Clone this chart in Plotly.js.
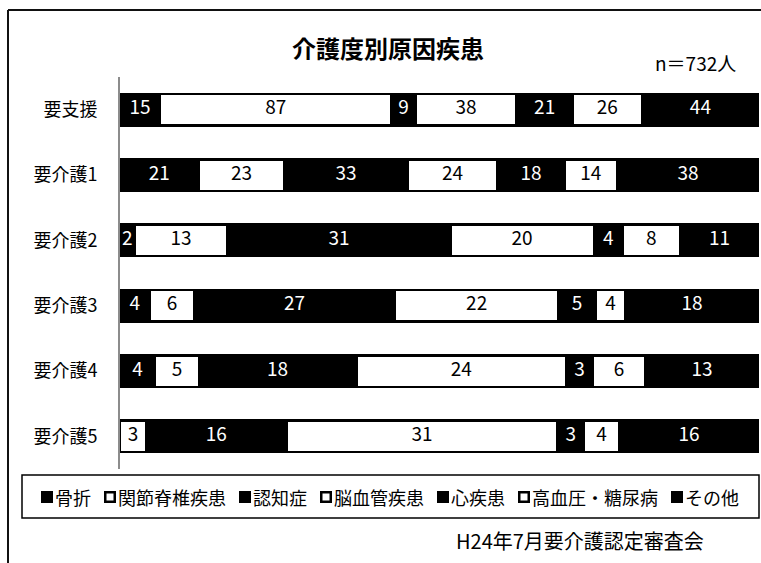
<!DOCTYPE html>
<html>
<head>
<meta charset="utf-8">
<script src="https://cdn.plot.ly/plotly-3.0.1.min.js"></script>
<style>html,body{margin:0;padding:0;background:#fff;}#chart{width:761px;height:563px;}</style>
</head>
<body>
<div id="chart"></div>
<script>
const categories = ['要支援','要介護1','要介護2','要介護3','要介護4','要介護5'];
const causes = ['骨折','関節脊椎疾患','認知症','脳血管疾患','心疾患','高血圧・糖尿病','その他'];
const fracture     = [15, 21,  2,  4,  4,  0];
const joint        = [87, 23, 13,  6,  5,  3];
const dementia     = [ 9, 33, 31, 27, 18, 16];
const stroke       = [38, 24, 20, 22, 24, 31];
const heart        = [21, 18,  4,  5,  3,  3];
const hypertension = [26, 14,  8,  4,  6,  4];
const other        = [44, 38, 11, 18, 13, 16];
const causeFill    = ['black','white','black','white','black','white','black'];
const titleText = '介護度別原因疾患';
const captionText = 'H24年7月要介護認定審査会';

const series = [fracture, joint, dementia, stroke, heart, hypertension, other];
const FONT = '"Noto Sans CJK JP", "Noto Sans", sans-serif';
const rowTotals = categories.map((c, r) => series.reduce((s, arr) => s + arr[r], 0));
const grand = rowTotals.reduce((a, b) => a + b, 0);

const L = 120, R = 759, T = 77, B = 469;
const rowPx = (B - T) / categories.length;
const blackW = 34 / rowPx;
const whiteLine = 2.5;
const whiteW = (34 - whiteLine) / rowPx;

const traces = [];
series.forEach((vals, i) => {
  const white = causeFill[i] === 'white';
  traces.push({
    type: 'bar', orientation: 'h', name: causes[i],
    y: categories, x: vals,
    width: categories.map(() => white ? whiteW : blackW),
    marker: {color: white ? '#ffffff' : '#000000',
             line: {color: '#000000', width: white ? whiteLine : 0}},
    hoverinfo: 'skip'
  });
});
// value labels
series.forEach((vals, i) => {
  const white = causeFill[i] === 'white';
  const xs = [], ys = [], ts = [];
  vals.forEach((v, r) => {
    if (!v) return;
    let cum = 0;
    for (let k = 0; k < i; k++) cum += series[k][r];
    xs.push((cum + v / 2) / rowTotals[r] * 100);
    ys.push(categories[r]);
    ts.push(String(v));
  });
  traces.push({
    type: 'scatter', mode: 'text', x: xs, y: ys, text: ts,
    textposition: 'middle center',
    textfont: {family: FONT, size: 19, color: white ? '#000000' : '#ffffff'},
    hoverinfo: 'skip', showlegend: false
  });
});

const px = x => (x - L) / (R - L);
const py = y => (B - y) / (B - T);

// legend layout (pixel positions of each legend square)
const legendX = [41, 104, 239, 320, 437, 518, 671];
const legendY = 497, sq = 12;

const shapes = [
  {type: 'line', xref: 'paper', yref: 'paper', x0: px(8), x1: px(8), y0: py(10), y1: py(600),
   line: {color: '#111', width: 2}},
  {type: 'line', xref: 'paper', yref: 'paper', x0: px(8), x1: px(800), y0: py(10), y1: py(10),
   line: {color: '#111', width: 2}},
  {type: 'rect', xref: 'paper', yref: 'paper', x0: px(22), x1: px(759), y0: py(475), y1: py(518),
   line: {color: '#000', width: 1.5}, fillcolor: 'rgba(0,0,0,0)'}
];
const annotations = [
  {xref: 'paper', yref: 'paper', x: px(388), y: py(48), text: '<b>' + titleText + '</b>',
   showarrow: false, xanchor: 'center', yanchor: 'middle',
   font: {family: FONT, size: 24, color: '#000'}},
  {xref: 'paper', yref: 'paper', x: px(695), y: py(63), text: 'n＝' + grand + '人',
   showarrow: false, xanchor: 'center', yanchor: 'middle',
   font: {family: FONT, size: 19, color: '#000'}},
  {xref: 'paper', yref: 'paper', x: px(580), y: py(540), text: captionText,
   showarrow: false, xanchor: 'center', yanchor: 'middle',
   font: {family: FONT, size: 20, color: '#000'}}
];
causes.forEach((c, i) => {
  const white = causeFill[i] === 'white';
  const x0 = legendX[i];
  shapes.push({type: 'rect', xref: 'paper', yref: 'paper',
    x0: px(x0 + (white ? 1.25 : 0)), x1: px(x0 + sq - (white ? 1.25 : 0)),
    y0: py(legendY - sq / 2 + (white ? 1.25 : 0)), y1: py(legendY + sq / 2 - (white ? 1.25 : 0)),
    fillcolor: white ? '#ffffff' : '#000000',
    line: {color: '#000', width: white ? 2.5 : 0}});
  annotations.push({xref: 'paper', yref: 'paper', x: px(x0 + sq), y: py(legendY),
    text: c, showarrow: false, xanchor: 'left', yanchor: 'middle',
    font: {family: FONT, size: 18, color: '#000'}});
});

const layout = {
  width: 761, height: 563,
  margin: {l: L, r: 761 - R, t: T, b: 563 - B, pad: 0},
  paper_bgcolor: '#ffffff', plot_bgcolor: '#ffffff',
  barmode: 'stack', barnorm: 'percent',
  showlegend: false,
  xaxis: {range: [0, 100], visible: false, fixedrange: true},
  yaxis: {type: 'category', autorange: 'reversed', showline: true,
          linecolor: '#8c8c8c', linewidth: 2, ticks: '', showgrid: false,
          zeroline: false, ticklabelstandoff: 17, fixedrange: true,
          tickfont: {family: FONT, size: 18, color: '#000000'}},
  shapes: shapes,
  annotations: annotations
};

Plotly.newPlot('chart', traces, layout, {staticPlot: true, displayModeBar: false});
</script>
</body>
</html>
